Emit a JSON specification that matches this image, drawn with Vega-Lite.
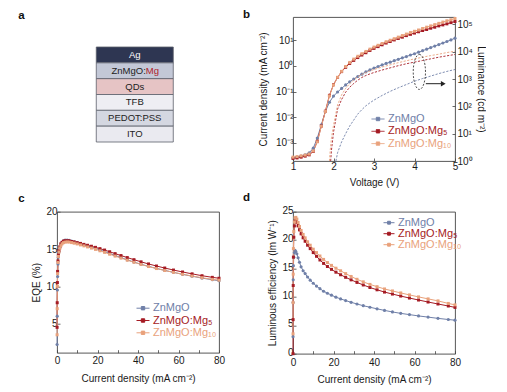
{
  "$schema": "https://vega.github.io/schema/vega-lite/v6.json",
  "background": "white",
  "padding": {"left": 17, "top": 8, "right": 0, "bottom": 0},
  "columns": 2,
  "bounds": "flush",
  "spacing": {"row": 50.7, "column": 74},
  "resolve": {
    "scale": {"color": "independent", "x": "independent", "y": "independent"},
    "axis": {"x": "independent", "y": "independent"},
    "legend": {"color": "independent"}
  },
  "config": {
    "font": "Liberation Sans",
    "view": {"stroke": "#444", "strokeWidth": 0.9},
    "axis": {
      "domain": false, "grid": false, "labelFontSize": 10, "titleFontSize": 10,
      "titleFontWeight": "normal", "labelColor": "#1a1a1a", "titleColor": "#1a1a1a",
      "tickColor": "#444", "tickSize": -3, "tickWidth": 0.8, "labelPadding": 3,
      "titlePadding": 4, "labelFlush": false, "labelOverlap": false
    },
    "axisX": {"labelPadding": 6, "titlePadding": 8},
    "legend": {
      "title": null, "orient": "none", "labelFontSize": 11, "labelOffset": 3,
      "symbolType": "M-1,0L1,0M-0.26,-0.26L0.26,-0.26L0.26,0.26L-0.26,0.26Z",
      "symbolSize": 169, "symbolStrokeWidth": 1, "rowPadding": 0.3, "padding": 0
    },
    "title": {"fontSize": 11.5, "fontWeight": "bold", "anchor": "start", "frame": "group", "color": "#111"}
  },
  "datasets": {
    "stack": [
      {"layer": "Ag", "col": "device", "label": "Ag", "hl": ""},
      {"layer": "ZnMgO:Mg", "col": "device", "label": "ZnMgO:", "hl": "Mg"},
      {"layer": "QDs", "col": "device", "label": "QDs", "hl": ""},
      {"layer": "TFB", "col": "device", "label": "TFB", "hl": ""},
      {"layer": "PEDOT:PSS", "col": "device", "label": "PEDOT:PSS", "hl": ""},
      {"layer": "ITO", "col": "device", "label": "ITO", "hl": ""}
    ],
    "jv": [
      {"s":"ZnMgO","V":1,"J":0.000251},{"s":"ZnMgO","V":1.1,"J":0.000269},{"s":"ZnMgO","V":1.2,"J":0.000295},{"s":"ZnMgO","V":1.3,"J":0.000331},{"s":"ZnMgO","V":1.4,"J":0.000398},{"s":"ZnMgO","V":1.5,"J":0.000603},{"s":"ZnMgO","V":1.6,"J":0.00151},{"s":"ZnMgO","V":1.7,"J":0.00501},{"s":"ZnMgO","V":1.8,"J":0.0166},{"s":"ZnMgO","V":1.9,"J":0.038},{"s":"ZnMgO","V":2,"J":0.0661},{"s":"ZnMgO","V":2.1,"J":0.0955},{"s":"ZnMgO","V":2.2,"J":0.132},{"s":"ZnMgO","V":2.3,"J":0.182},{"s":"ZnMgO","V":2.4,"J":0.24},{"s":"ZnMgO","V":2.5,"J":0.309},{"s":"ZnMgO","V":2.6,"J":0.389},{"s":"ZnMgO","V":2.7,"J":0.479},{"s":"ZnMgO","V":2.8,"J":0.589},{"s":"ZnMgO","V":2.9,"J":0.708},{"s":"ZnMgO","V":3,"J":0.832},{"s":"ZnMgO","V":3.1,"J":0.955},{"s":"ZnMgO","V":3.2,"J":1.1},{"s":"ZnMgO","V":3.3,"J":1.26},{"s":"ZnMgO","V":3.4,"J":1.41},{"s":"ZnMgO","V":3.5,"J":1.62},{"s":"ZnMgO","V":3.6,"J":1.82},{"s":"ZnMgO","V":3.7,"J":2.09},{"s":"ZnMgO","V":3.8,"J":2.34},{"s":"ZnMgO","V":3.9,"J":2.69},{"s":"ZnMgO","V":4,"J":3.02},{"s":"ZnMgO","V":4.1,"J":3.47},{"s":"ZnMgO","V":4.2,"J":3.98},{"s":"ZnMgO","V":4.3,"J":4.57},{"s":"ZnMgO","V":4.4,"J":5.25},{"s":"ZnMgO","V":4.5,"J":6.03},{"s":"ZnMgO","V":4.6,"J":6.92},{"s":"ZnMgO","V":4.7,"J":7.94},{"s":"ZnMgO","V":4.8,"J":9.12},{"s":"ZnMgO","V":4.9,"J":10.5},{"s":"ZnMgO","V":5,"J":12.3},
      {"s":"ZnMgO:Mg₅","V":1,"J":0.00024},{"s":"ZnMgO:Mg₅","V":1.1,"J":0.000251},{"s":"ZnMgO:Mg₅","V":1.2,"J":0.000269},{"s":"ZnMgO:Mg₅","V":1.3,"J":0.000295},{"s":"ZnMgO:Mg₅","V":1.4,"J":0.000331},{"s":"ZnMgO:Mg₅","V":1.5,"J":0.000447},{"s":"ZnMgO:Mg₅","V":1.6,"J":0.00112},{"s":"ZnMgO:Mg₅","V":1.7,"J":0.00447},{"s":"ZnMgO:Mg₅","V":1.8,"J":0.017},{"s":"ZnMgO:Mg₅","V":1.9,"J":0.0708},{"s":"ZnMgO:Mg₅","V":2,"J":0.186},{"s":"ZnMgO:Mg₅","V":2.1,"J":0.355},{"s":"ZnMgO:Mg₅","V":2.2,"J":0.603},{"s":"ZnMgO:Mg₅","V":2.3,"J":0.891},{"s":"ZnMgO:Mg₅","V":2.4,"J":1.26},{"s":"ZnMgO:Mg₅","V":2.5,"J":1.66},{"s":"ZnMgO:Mg₅","V":2.6,"J":2.14},{"s":"ZnMgO:Mg₅","V":2.7,"J":2.69},{"s":"ZnMgO:Mg₅","V":2.8,"J":3.31},{"s":"ZnMgO:Mg₅","V":2.9,"J":4.07},{"s":"ZnMgO:Mg₅","V":3,"J":4.9},{"s":"ZnMgO:Mg₅","V":3.1,"J":5.75},{"s":"ZnMgO:Mg₅","V":3.2,"J":6.76},{"s":"ZnMgO:Mg₅","V":3.3,"J":7.94},{"s":"ZnMgO:Mg₅","V":3.4,"J":9.12},{"s":"ZnMgO:Mg₅","V":3.5,"J":10.5},{"s":"ZnMgO:Mg₅","V":3.6,"J":12},{"s":"ZnMgO:Mg₅","V":3.7,"J":13.5},{"s":"ZnMgO:Mg₅","V":3.8,"J":15.5},{"s":"ZnMgO:Mg₅","V":3.9,"J":17.4},{"s":"ZnMgO:Mg₅","V":4,"J":19.5},{"s":"ZnMgO:Mg₅","V":4.1,"J":21.9},{"s":"ZnMgO:Mg₅","V":4.2,"J":24.5},{"s":"ZnMgO:Mg₅","V":4.3,"J":26.9},{"s":"ZnMgO:Mg₅","V":4.4,"J":30.2},{"s":"ZnMgO:Mg₅","V":4.5,"J":33.1},{"s":"ZnMgO:Mg₅","V":4.6,"J":37.2},{"s":"ZnMgO:Mg₅","V":4.7,"J":40.7},{"s":"ZnMgO:Mg₅","V":4.8,"J":44.7},{"s":"ZnMgO:Mg₅","V":4.9,"J":50.1},{"s":"ZnMgO:Mg₅","V":5,"J":55},
      {"s":"ZnMgO:Mg₁₀","V":1,"J":0.000269},{"s":"ZnMgO:Mg₁₀","V":1.1,"J":0.000282},{"s":"ZnMgO:Mg₁₀","V":1.2,"J":0.000302},{"s":"ZnMgO:Mg₁₀","V":1.3,"J":0.000324},{"s":"ZnMgO:Mg₁₀","V":1.4,"J":0.000355},{"s":"ZnMgO:Mg₁₀","V":1.5,"J":0.000468},{"s":"ZnMgO:Mg₁₀","V":1.6,"J":0.00107},{"s":"ZnMgO:Mg₁₀","V":1.7,"J":0.00437},{"s":"ZnMgO:Mg₁₀","V":1.8,"J":0.0166},{"s":"ZnMgO:Mg₁₀","V":1.9,"J":0.0676},{"s":"ZnMgO:Mg₁₀","V":2,"J":0.182},{"s":"ZnMgO:Mg₁₀","V":2.1,"J":0.36},{"s":"ZnMgO:Mg₁₀","V":2.2,"J":0.617},{"s":"ZnMgO:Mg₁₀","V":2.3,"J":0.955},{"s":"ZnMgO:Mg₁₀","V":2.4,"J":1.38},{"s":"ZnMgO:Mg₁₀","V":2.5,"J":1.86},{"s":"ZnMgO:Mg₁₀","V":2.6,"J":2.4},{"s":"ZnMgO:Mg₁₀","V":2.7,"J":3.02},{"s":"ZnMgO:Mg₁₀","V":2.8,"J":3.72},{"s":"ZnMgO:Mg₁₀","V":2.9,"J":4.57},{"s":"ZnMgO:Mg₁₀","V":3,"J":5.5},{"s":"ZnMgO:Mg₁₀","V":3.1,"J":6.46},{"s":"ZnMgO:Mg₁₀","V":3.2,"J":7.59},{"s":"ZnMgO:Mg₁₀","V":3.3,"J":8.91},{"s":"ZnMgO:Mg₁₀","V":3.4,"J":10.2},{"s":"ZnMgO:Mg₁₀","V":3.5,"J":11.7},{"s":"ZnMgO:Mg₁₀","V":3.6,"J":13.5},{"s":"ZnMgO:Mg₁₀","V":3.7,"J":15.5},{"s":"ZnMgO:Mg₁₀","V":3.8,"J":17.8},{"s":"ZnMgO:Mg₁₀","V":3.9,"J":20.4},{"s":"ZnMgO:Mg₁₀","V":4,"J":22.9},{"s":"ZnMgO:Mg₁₀","V":4.1,"J":25.7},{"s":"ZnMgO:Mg₁₀","V":4.2,"J":29.5},{"s":"ZnMgO:Mg₁₀","V":4.3,"J":33.1},{"s":"ZnMgO:Mg₁₀","V":4.4,"J":37.2},{"s":"ZnMgO:Mg₁₀","V":4.5,"J":41.7},{"s":"ZnMgO:Mg₁₀","V":4.6,"J":46.8},{"s":"ZnMgO:Mg₁₀","V":4.7,"J":52.5},{"s":"ZnMgO:Mg₁₀","V":4.8,"J":58.9},{"s":"ZnMgO:Mg₁₀","V":4.9,"J":64.6},{"s":"ZnMgO:Mg₁₀","V":5,"J":72.4}
    ],
    "lv": [
      {"s":"ZnMgO","V":2.06,"L":1},{"s":"ZnMgO","V":2.1,"L":2},{"s":"ZnMgO","V":2.2,"L":5.01},{"s":"ZnMgO","V":2.3,"L":10},{"s":"ZnMgO","V":2.4,"L":19.1},{"s":"ZnMgO","V":2.5,"L":31.6},{"s":"ZnMgO","V":2.6,"L":52.5},{"s":"ZnMgO","V":2.7,"L":75.9},{"s":"ZnMgO","V":2.8,"L":105},{"s":"ZnMgO","V":2.9,"L":135},{"s":"ZnMgO","V":3,"L":170},{"s":"ZnMgO","V":3.2,"L":251},{"s":"ZnMgO","V":3.4,"L":355},{"s":"ZnMgO","V":3.6,"L":479},{"s":"ZnMgO","V":3.8,"L":631},{"s":"ZnMgO","V":4,"L":832},{"s":"ZnMgO","V":4.2,"L":1047},{"s":"ZnMgO","V":4.4,"L":1288},{"s":"ZnMgO","V":4.6,"L":1585},{"s":"ZnMgO","V":4.8,"L":1905},{"s":"ZnMgO","V":5,"L":2239},
      {"s":"ZnMgO:Mg₅","V":1.93,"L":1},{"s":"ZnMgO:Mg₅","V":1.95,"L":2.51},{"s":"ZnMgO:Mg₅","V":2,"L":11.2},{"s":"ZnMgO:Mg₅","V":2.1,"L":79.4},{"s":"ZnMgO:Mg₅","V":2.2,"L":178},{"s":"ZnMgO:Mg₅","V":2.3,"L":331},{"s":"ZnMgO:Mg₅","V":2.4,"L":501},{"s":"ZnMgO:Mg₅","V":2.5,"L":692},{"s":"ZnMgO:Mg₅","V":2.6,"L":912},{"s":"ZnMgO:Mg₅","V":2.7,"L":1148},{"s":"ZnMgO:Mg₅","V":2.8,"L":1349},{"s":"ZnMgO:Mg₅","V":2.9,"L":1549},{"s":"ZnMgO:Mg₅","V":3,"L":1738},{"s":"ZnMgO:Mg₅","V":3.2,"L":2138},{"s":"ZnMgO:Mg₅","V":3.4,"L":2570},{"s":"ZnMgO:Mg₅","V":3.6,"L":3090},{"s":"ZnMgO:Mg₅","V":3.8,"L":3631},{"s":"ZnMgO:Mg₅","V":4,"L":4169},{"s":"ZnMgO:Mg₅","V":4.2,"L":4786},{"s":"ZnMgO:Mg₅","V":4.4,"L":5495},{"s":"ZnMgO:Mg₅","V":4.6,"L":6310},{"s":"ZnMgO:Mg₅","V":4.8,"L":7079},{"s":"ZnMgO:Mg₅","V":5,"L":7943},
      {"s":"ZnMgO:Mg₁₀","V":1.9,"L":1},{"s":"ZnMgO:Mg₁₀","V":1.92,"L":2.51},{"s":"ZnMgO:Mg₁₀","V":1.95,"L":7.08},{"s":"ZnMgO:Mg₁₀","V":2,"L":20},{"s":"ZnMgO:Mg₁₀","V":2.1,"L":112},{"s":"ZnMgO:Mg₁₀","V":2.2,"L":263},{"s":"ZnMgO:Mg₁₀","V":2.3,"L":457},{"s":"ZnMgO:Mg₁₀","V":2.4,"L":676},{"s":"ZnMgO:Mg₁₀","V":2.5,"L":933},{"s":"ZnMgO:Mg₁₀","V":2.6,"L":1202},{"s":"ZnMgO:Mg₁₀","V":2.7,"L":1479},{"s":"ZnMgO:Mg₁₀","V":2.8,"L":1738},{"s":"ZnMgO:Mg₁₀","V":2.9,"L":1995},{"s":"ZnMgO:Mg₁₀","V":3,"L":2239},{"s":"ZnMgO:Mg₁₀","V":3.2,"L":2754},{"s":"ZnMgO:Mg₁₀","V":3.4,"L":3311},{"s":"ZnMgO:Mg₁₀","V":3.6,"L":3981},{"s":"ZnMgO:Mg₁₀","V":3.8,"L":4677},{"s":"ZnMgO:Mg₁₀","V":4,"L":5495},{"s":"ZnMgO:Mg₁₀","V":4.2,"L":6310},{"s":"ZnMgO:Mg₁₀","V":4.4,"L":7244},{"s":"ZnMgO:Mg₁₀","V":4.6,"L":8128},{"s":"ZnMgO:Mg₁₀","V":4.8,"L":9333},{"s":"ZnMgO:Mg₁₀","V":5,"L":10471}
    ],
    "eqe": [
      {"s":"ZnMgO","J":0.05,"E":2.2},{"s":"ZnMgO","J":0.1,"E":6},{"s":"ZnMgO","J":0.2,"E":9.5},{"s":"ZnMgO","J":0.3,"E":11.3},{"s":"ZnMgO","J":0.5,"E":13},{"s":"ZnMgO","J":0.7,"E":13.9},{"s":"ZnMgO","J":1,"E":14.6},{"s":"ZnMgO","J":1.4,"E":15.2},{"s":"ZnMgO","J":1.9,"E":15.6},{"s":"ZnMgO","J":2.5,"E":15.9},{"s":"ZnMgO","J":3.2,"E":16.1},{"s":"ZnMgO","J":4,"E":16.2},{"s":"ZnMgO","J":5,"E":16.2},{"s":"ZnMgO","J":6,"E":16.15},{"s":"ZnMgO","J":7.2,"E":16.05},{"s":"ZnMgO","J":8.5,"E":15.95},{"s":"ZnMgO","J":10,"E":15.85},{"s":"ZnMgO","J":11.6,"E":15.7},{"s":"ZnMgO","J":13.3,"E":15.55},{"s":"ZnMgO","J":15.1,"E":15.4},{"s":"ZnMgO","J":17,"E":15.25},{"s":"ZnMgO","J":19,"E":15.08},{"s":"ZnMgO","J":21.2,"E":14.88},{"s":"ZnMgO","J":23.5,"E":14.65},{"s":"ZnMgO","J":26,"E":14.4},{"s":"ZnMgO","J":28.7,"E":14.13},{"s":"ZnMgO","J":31.6,"E":13.85},{"s":"ZnMgO","J":34.7,"E":13.55},{"s":"ZnMgO","J":38,"E":13.25},{"s":"ZnMgO","J":41.5,"E":12.95},{"s":"ZnMgO","J":45.2,"E":12.67},{"s":"ZnMgO","J":49.1,"E":12.4},{"s":"ZnMgO","J":53.2,"E":12.13},{"s":"ZnMgO","J":57.5,"E":11.87},{"s":"ZnMgO","J":62,"E":11.6},{"s":"ZnMgO","J":66.7,"E":11.35},{"s":"ZnMgO","J":71.6,"E":11.1},{"s":"ZnMgO","J":76.7,"E":10.88},{"s":"ZnMgO","J":80,"E":10.75},
      {"s":"ZnMgO:Mg₅","J":0.05,"E":4.5},{"s":"ZnMgO:Mg₅","J":0.1,"E":7.8},{"s":"ZnMgO:Mg₅","J":0.2,"E":10.5},{"s":"ZnMgO:Mg₅","J":0.3,"E":12},{"s":"ZnMgO:Mg₅","J":0.5,"E":13.4},{"s":"ZnMgO:Mg₅","J":0.7,"E":14.2},{"s":"ZnMgO:Mg₅","J":1,"E":14.8},{"s":"ZnMgO:Mg₅","J":1.4,"E":15.3},{"s":"ZnMgO:Mg₅","J":1.9,"E":15.7},{"s":"ZnMgO:Mg₅","J":2.5,"E":15.9},{"s":"ZnMgO:Mg₅","J":3.2,"E":16.05},{"s":"ZnMgO:Mg₅","J":4,"E":16.1},{"s":"ZnMgO:Mg₅","J":5,"E":16.1},{"s":"ZnMgO:Mg₅","J":6,"E":16.1},{"s":"ZnMgO:Mg₅","J":7.2,"E":16},{"s":"ZnMgO:Mg₅","J":8.5,"E":15.95},{"s":"ZnMgO:Mg₅","J":10,"E":15.85},{"s":"ZnMgO:Mg₅","J":11.6,"E":15.75},{"s":"ZnMgO:Mg₅","J":13.3,"E":15.62},{"s":"ZnMgO:Mg₅","J":15.1,"E":15.5},{"s":"ZnMgO:Mg₅","J":17,"E":15.37},{"s":"ZnMgO:Mg₅","J":19,"E":15.22},{"s":"ZnMgO:Mg₅","J":21.2,"E":15.05},{"s":"ZnMgO:Mg₅","J":23.5,"E":14.86},{"s":"ZnMgO:Mg₅","J":26,"E":14.63},{"s":"ZnMgO:Mg₅","J":28.7,"E":14.38},{"s":"ZnMgO:Mg₅","J":31.6,"E":14.12},{"s":"ZnMgO:Mg₅","J":34.7,"E":13.85},{"s":"ZnMgO:Mg₅","J":38,"E":13.57},{"s":"ZnMgO:Mg₅","J":41.5,"E":13.28},{"s":"ZnMgO:Mg₅","J":45.2,"E":13},{"s":"ZnMgO:Mg₅","J":49.1,"E":12.72},{"s":"ZnMgO:Mg₅","J":53.2,"E":12.45},{"s":"ZnMgO:Mg₅","J":57.5,"E":12.18},{"s":"ZnMgO:Mg₅","J":62,"E":11.92},{"s":"ZnMgO:Mg₅","J":66.7,"E":11.67},{"s":"ZnMgO:Mg₅","J":71.6,"E":11.42},{"s":"ZnMgO:Mg₅","J":76.7,"E":11.2},{"s":"ZnMgO:Mg₅","J":80,"E":11.08},
      {"s":"ZnMgO:Mg₁₀","J":0.05,"E":3.5},{"s":"ZnMgO:Mg₁₀","J":0.1,"E":7},{"s":"ZnMgO:Mg₁₀","J":0.2,"E":10},{"s":"ZnMgO:Mg₁₀","J":0.3,"E":11.7},{"s":"ZnMgO:Mg₁₀","J":0.5,"E":13.2},{"s":"ZnMgO:Mg₁₀","J":0.7,"E":14},{"s":"ZnMgO:Mg₁₀","J":1,"E":14.6},{"s":"ZnMgO:Mg₁₀","J":1.4,"E":15.1},{"s":"ZnMgO:Mg₁₀","J":1.9,"E":15.45},{"s":"ZnMgO:Mg₁₀","J":2.5,"E":15.7},{"s":"ZnMgO:Mg₁₀","J":3.2,"E":15.85},{"s":"ZnMgO:Mg₁₀","J":4,"E":15.92},{"s":"ZnMgO:Mg₁₀","J":5,"E":15.95},{"s":"ZnMgO:Mg₁₀","J":6,"E":15.93},{"s":"ZnMgO:Mg₁₀","J":7.2,"E":15.86},{"s":"ZnMgO:Mg₁₀","J":8.5,"E":15.78},{"s":"ZnMgO:Mg₁₀","J":10,"E":15.68},{"s":"ZnMgO:Mg₁₀","J":11.6,"E":15.55},{"s":"ZnMgO:Mg₁₀","J":13.3,"E":15.42},{"s":"ZnMgO:Mg₁₀","J":15.1,"E":15.28},{"s":"ZnMgO:Mg₁₀","J":17,"E":15.12},{"s":"ZnMgO:Mg₁₀","J":19,"E":14.95},{"s":"ZnMgO:Mg₁₀","J":21.2,"E":14.76},{"s":"ZnMgO:Mg₁₀","J":23.5,"E":14.55},{"s":"ZnMgO:Mg₁₀","J":26,"E":14.3},{"s":"ZnMgO:Mg₁₀","J":28.7,"E":14.05},{"s":"ZnMgO:Mg₁₀","J":31.6,"E":13.78},{"s":"ZnMgO:Mg₁₀","J":34.7,"E":13.5},{"s":"ZnMgO:Mg₁₀","J":38,"E":13.22},{"s":"ZnMgO:Mg₁₀","J":41.5,"E":12.93},{"s":"ZnMgO:Mg₁₀","J":45.2,"E":12.65},{"s":"ZnMgO:Mg₁₀","J":49.1,"E":12.38},{"s":"ZnMgO:Mg₁₀","J":53.2,"E":12.12},{"s":"ZnMgO:Mg₁₀","J":57.5,"E":11.87},{"s":"ZnMgO:Mg₁₀","J":62,"E":11.62},{"s":"ZnMgO:Mg₁₀","J":66.7,"E":11.38},{"s":"ZnMgO:Mg₁₀","J":71.6,"E":11.15},{"s":"ZnMgO:Mg₁₀","J":76.7,"E":10.93},{"s":"ZnMgO:Mg₁₀","J":80,"E":10.82}
    ],
    "le": [
      {"s":"ZnMgO","J":0.02,"E":3},{"s":"ZnMgO","J":0.05,"E":9},{"s":"ZnMgO","J":0.1,"E":13},{"s":"ZnMgO","J":0.2,"E":15.5},{"s":"ZnMgO","J":0.4,"E":17},{"s":"ZnMgO","J":0.7,"E":17.8},{"s":"ZnMgO","J":1,"E":18.2},{"s":"ZnMgO","J":1.4,"E":18},{"s":"ZnMgO","J":1.9,"E":17.6},{"s":"ZnMgO","J":2.5,"E":16.9},{"s":"ZnMgO","J":3.2,"E":16.1},{"s":"ZnMgO","J":4,"E":15.3},{"s":"ZnMgO","J":5,"E":14.6},{"s":"ZnMgO","J":6,"E":14.1},{"s":"ZnMgO","J":7.2,"E":13.5},{"s":"ZnMgO","J":8.5,"E":12.95},{"s":"ZnMgO","J":10,"E":12.4},{"s":"ZnMgO","J":11.6,"E":11.9},{"s":"ZnMgO","J":13.3,"E":11.45},{"s":"ZnMgO","J":15.1,"E":11},{"s":"ZnMgO","J":17,"E":10.65},{"s":"ZnMgO","J":19,"E":10.3},{"s":"ZnMgO","J":21.2,"E":9.95},{"s":"ZnMgO","J":23.5,"E":9.65},{"s":"ZnMgO","J":26,"E":9.35},{"s":"ZnMgO","J":28.7,"E":9.05},{"s":"ZnMgO","J":31.6,"E":8.75},{"s":"ZnMgO","J":34.7,"E":8.45},{"s":"ZnMgO","J":38,"E":8.18},{"s":"ZnMgO","J":41.5,"E":7.9},{"s":"ZnMgO","J":45.2,"E":7.62},{"s":"ZnMgO","J":49.1,"E":7.35},{"s":"ZnMgO","J":53.2,"E":7.1},{"s":"ZnMgO","J":57.5,"E":6.88},{"s":"ZnMgO","J":62,"E":6.65},{"s":"ZnMgO","J":66.7,"E":6.44},{"s":"ZnMgO","J":71.6,"E":6.22},{"s":"ZnMgO","J":76.7,"E":6.02},{"s":"ZnMgO","J":80,"E":5.9},
      {"s":"ZnMgO:Mg₅","J":0.02,"E":0},{"s":"ZnMgO:Mg₅","J":0.05,"E":6},{"s":"ZnMgO:Mg₅","J":0.1,"E":12},{"s":"ZnMgO:Mg₅","J":0.2,"E":17},{"s":"ZnMgO:Mg₅","J":0.4,"E":20.5},{"s":"ZnMgO:Mg₅","J":0.7,"E":22.5},{"s":"ZnMgO:Mg₅","J":1,"E":23.3},{"s":"ZnMgO:Mg₅","J":1.4,"E":23.5},{"s":"ZnMgO:Mg₅","J":1.9,"E":23.1},{"s":"ZnMgO:Mg₅","J":2.5,"E":22.5},{"s":"ZnMgO:Mg₅","J":3.2,"E":21.8},{"s":"ZnMgO:Mg₅","J":4,"E":21.1},{"s":"ZnMgO:Mg₅","J":5,"E":20.4},{"s":"ZnMgO:Mg₅","J":6,"E":19.8},{"s":"ZnMgO:Mg₅","J":7.2,"E":19.1},{"s":"ZnMgO:Mg₅","J":8.5,"E":18.5},{"s":"ZnMgO:Mg₅","J":10,"E":17.8},{"s":"ZnMgO:Mg₅","J":11.6,"E":17.15},{"s":"ZnMgO:Mg₅","J":13.3,"E":16.5},{"s":"ZnMgO:Mg₅","J":15.1,"E":15.9},{"s":"ZnMgO:Mg₅","J":17,"E":15.35},{"s":"ZnMgO:Mg₅","J":19,"E":14.85},{"s":"ZnMgO:Mg₅","J":21.2,"E":14.35},{"s":"ZnMgO:Mg₅","J":23.5,"E":13.9},{"s":"ZnMgO:Mg₅","J":26,"E":13.45},{"s":"ZnMgO:Mg₅","J":28.7,"E":13},{"s":"ZnMgO:Mg₅","J":31.6,"E":12.55},{"s":"ZnMgO:Mg₅","J":34.7,"E":12.1},{"s":"ZnMgO:Mg₅","J":38,"E":11.65},{"s":"ZnMgO:Mg₅","J":41.5,"E":11.25},{"s":"ZnMgO:Mg₅","J":45.2,"E":10.85},{"s":"ZnMgO:Mg₅","J":49.1,"E":10.5},{"s":"ZnMgO:Mg₅","J":53.2,"E":10.15},{"s":"ZnMgO:Mg₅","J":57.5,"E":9.8},{"s":"ZnMgO:Mg₅","J":62,"E":9.45},{"s":"ZnMgO:Mg₅","J":66.7,"E":9.1},{"s":"ZnMgO:Mg₅","J":71.6,"E":8.75},{"s":"ZnMgO:Mg₅","J":76.7,"E":8.4},{"s":"ZnMgO:Mg₅","J":80,"E":8.15},
      {"s":"ZnMgO:Mg₁₀","J":0.02,"E":3.5},{"s":"ZnMgO:Mg₁₀","J":0.05,"E":9},{"s":"ZnMgO:Mg₁₀","J":0.1,"E":14},{"s":"ZnMgO:Mg₁₀","J":0.2,"E":18.5},{"s":"ZnMgO:Mg₁₀","J":0.4,"E":21.5},{"s":"ZnMgO:Mg₁₀","J":0.7,"E":23.2},{"s":"ZnMgO:Mg₁₀","J":1,"E":23.9},{"s":"ZnMgO:Mg₁₀","J":1.4,"E":24},{"s":"ZnMgO:Mg₁₀","J":1.9,"E":23.7},{"s":"ZnMgO:Mg₁₀","J":2.5,"E":23.1},{"s":"ZnMgO:Mg₁₀","J":3.2,"E":22.4},{"s":"ZnMgO:Mg₁₀","J":4,"E":21.7},{"s":"ZnMgO:Mg₁₀","J":5,"E":21},{"s":"ZnMgO:Mg₁₀","J":6,"E":20.4},{"s":"ZnMgO:Mg₁₀","J":7.2,"E":19.7},{"s":"ZnMgO:Mg₁₀","J":8.5,"E":19.1},{"s":"ZnMgO:Mg₁₀","J":10,"E":18.4},{"s":"ZnMgO:Mg₁₀","J":11.6,"E":17.8},{"s":"ZnMgO:Mg₁₀","J":13.3,"E":17.2},{"s":"ZnMgO:Mg₁₀","J":15.1,"E":16.6},{"s":"ZnMgO:Mg₁₀","J":17,"E":16.05},{"s":"ZnMgO:Mg₁₀","J":19,"E":15.55},{"s":"ZnMgO:Mg₁₀","J":21.2,"E":15.05},{"s":"ZnMgO:Mg₁₀","J":23.5,"E":14.6},{"s":"ZnMgO:Mg₁₀","J":26,"E":14.1},{"s":"ZnMgO:Mg₁₀","J":28.7,"E":13.6},{"s":"ZnMgO:Mg₁₀","J":31.6,"E":13.1},{"s":"ZnMgO:Mg₁₀","J":34.7,"E":12.65},{"s":"ZnMgO:Mg₁₀","J":38,"E":12.2},{"s":"ZnMgO:Mg₁₀","J":41.5,"E":11.8},{"s":"ZnMgO:Mg₁₀","J":45.2,"E":11.4},{"s":"ZnMgO:Mg₁₀","J":49.1,"E":11.05},{"s":"ZnMgO:Mg₁₀","J":53.2,"E":10.7},{"s":"ZnMgO:Mg₁₀","J":57.5,"E":10.35},{"s":"ZnMgO:Mg₁₀","J":62,"E":10},{"s":"ZnMgO:Mg₁₀","J":66.7,"E":9.65},{"s":"ZnMgO:Mg₁₀","J":71.6,"E":9.3},{"s":"ZnMgO:Mg₁₀","J":76.7,"E":8.85},{"s":"ZnMgO:Mg₁₀","J":80,"E":8.6}
    ]
  },
  "concat": [
    {
      "width": 162, "height": 125,
      "view": {"stroke": null},
      "title": {"text": "a", "dx": -38.7, "offset": -4},
      "data": {"name": "stack"},
      "encoding": {
        "x": {"field": "col", "type": "nominal", "axis": null, "scale": {"paddingInner": 0, "paddingOuter": 0.552, "align": 0.462}},
        "y": {"field": "layer", "type": "nominal", "axis": null, "sort": null, "scale": {"domain": ["Ag", "ZnMgO:Mg", "QDs", "TFB", "PEDOT:PSS", "ITO"], "paddingInner": 0, "paddingOuter": 0.948, "align": 1}}
      },
      "layer": [
        {
          "mark": {"type": "rect", "stroke": "#5c5f6b", "strokeWidth": 0.8},
          "encoding": {
            "color": {"field": "layer", "type": "nominal", "legend": null, "scale": {"domain": ["Ag", "ZnMgO:Mg", "QDs", "TFB", "PEDOT:PSS", "ITO"], "range": ["#2e3652", "#c3c8d7", "#e6c4c5", "#eeeef3", "#d4d7e1", "#eaeaf0"]}}
          }
        },
        {
          "transform": [{"filter": "datum.hl === ''"}],
          "mark": {"type": "text", "fontSize": 9.5, "align": "center", "baseline": "middle"},
          "encoding": {
            "text": {"field": "label"},
            "color": {"condition": {"test": "datum.layer === 'Ag'", "value": "#ffffff"}, "value": "#222222"}
          }
        },
        {
          "transform": [{"filter": "datum.hl !== ''"}],
          "mark": {"type": "text", "fontSize": 9.5, "align": "right", "baseline": "middle", "dx": 11, "color": "#222222"},
          "encoding": {"text": {"field": "label"}}
        },
        {
          "transform": [{"filter": "datum.hl !== ''"}],
          "mark": {"type": "text", "fontSize": 9.5, "align": "left", "baseline": "middle", "dx": 11, "color": "#b0202a"},
          "encoding": {"text": {"field": "hl"}}
        }
      ]
    },
    {
      "width": 162, "height": 144,
      "title": {"text": "b", "dx": -50, "offset": -4},
      "encoding": {
        "x": {"field": "V", "type": "quantitative", "scale": {"domain": [1, 5], "nice": false}, "axis": {"title": "Voltage (V)", "values": [1, 2, 3, 4, 5], "labelPadding": 3, "titlePadding": 6}}
      },
      "layer": [
        {
          "data": {"name": "jv"},
          "encoding": {
            "y": {"field": "J", "type": "quantitative", "scale": {"type": "log", "domain": [0.00019, 83], "nice": false}, "axis": {"title": "Current density (mA cm⁻²)", "titlePadding": 7, "values": [0.001, 0.01, 0.1, 1, 10], "labelExpr": "datum.value > 5 ? '10¹' : datum.value > 0.5 ? '10⁰' : datum.value > 0.05 ? '10⁻¹' : datum.value > 0.005 ? '10⁻²' : '10⁻³'"}},
            "color": {"field": "s", "type": "nominal", "scale": {"domain": ["ZnMgO", "ZnMgO:Mg₅", "ZnMgO:Mg₁₀"], "range": ["#7080a8", "#a51b24", "#e9a27c"]},
              "legend": {"legendX": 78, "legendY": 95, "encode": {
                "labels": {"update": {"fill": {"signal": "datum.value === 'ZnMgO' ? '#7080a8' : datum.value === 'ZnMgO:Mg₅' ? '#a51b24' : '#e9a27c'"}}},
                "symbols": {"update": {"fill": {"signal": "datum.value === 'ZnMgO' ? '#7080a8' : datum.value === 'ZnMgO:Mg₅' ? '#a51b24' : '#e9a27c'"}, "stroke": {"signal": "datum.value === 'ZnMgO' ? '#7080a8' : datum.value === 'ZnMgO:Mg₅' ? '#a51b24' : '#e9a27c'"}, "strokeDash": {"value": [1, 0]}, "opacity": {"value": 1}}}
              }}}
          },
          "layer": [
            {"mark": {"type": "line", "strokeWidth": 1}},
            {"transform": [{"filter": "datum.s === 'ZnMgO'"}], "mark": {"type": "point", "shape": "circle", "filled": true, "size": 10, "opacity": 1}},
            {"transform": [{"filter": "datum.s !== 'ZnMgO'"}], "mark": {"type": "point", "shape": "square", "filled": true, "size": 9, "opacity": 1}}
          ]
        },
        {
          "layer": [
            {
              "data": {"name": "lv"},
              "mark": {"type": "line", "strokeWidth": 0.9, "strokeDash": [2.2, 1.5]},
              "encoding": {
                "y": {"field": "L", "type": "quantitative", "scale": {"type": "log", "domain": [1, 187000], "nice": false}, "axis": {"orient": "right", "title": "Luminance (cd m⁻²)", "labelPadding": 5, "titlePadding": 3, "values": [1, 10, 100, 1000, 10000, 100000], "labelExpr": "datum.value > 50000 ? '10⁵' : datum.value > 5000 ? '10⁴' : datum.value > 500 ? '10³' : datum.value > 50 ? '10²' : datum.value > 5 ? '10¹' : '10⁰'"}},
                "color": {"field": "s", "type": "nominal"}
              }
            },
            {
              "data": {"values": [{"V": 4.12, "L": 1820}]},
              "mark": {"type": "point", "shape": "M0,-1A0.35,1 0 1 1 0,1A0.35,1 0 1 1 0,-1Z", "size": 1225, "filled": false, "color": "#222222", "strokeWidth": 0.8, "strokeDash": [2, 1.5], "opacity": 1},
              "encoding": {"y": {"field": "L", "type": "quantitative"}}
            },
            {
              "data": {"values": [{"V": 4.28, "V2": 4.68, "L": 676}]},
              "mark": {"type": "rule", "color": "#222222", "strokeWidth": 1},
              "encoding": {"x2": {"field": "V2"}, "y": {"field": "L", "type": "quantitative"}}
            },
            {
              "data": {"values": [{"V": 4.71, "L": 676}]},
              "mark": {"type": "point", "shape": "triangle-right", "size": 30, "filled": true, "color": "#222222", "opacity": 1},
              "encoding": {"y": {"field": "L", "type": "quantitative"}}
            }
          ]
        }
      ],
      "resolve": {"scale": {"y": "independent"}}
    },
    {
      "width": 162, "height": 141,
      "title": {"text": "c", "dx": -38.7, "offset": 2},
      "data": {"name": "eqe"},
      "encoding": {
        "x": {"field": "J", "type": "quantitative", "scale": {"domain": [0, 80], "nice": false}, "axis": {"title": "Current density (mA cm⁻²)", "values": [0, 10, 20, 30, 40, 50, 60, 70, 80], "labelExpr": "datum.value % 20 === 0 ? datum.label : ''"}},
        "y": {"field": "E", "type": "quantitative", "scale": {"domain": [1.1, 20], "nice": false, "zero": false}, "axis": {"title": "EQE (%)", "values": [5, 10, 15, 20]}},
        "color": {"field": "s", "type": "nominal", "scale": {"domain": ["ZnMgO", "ZnMgO:Mg₅", "ZnMgO:Mg₁₀"], "range": ["#7080a8", "#a51b24", "#e9a27c"]},
          "legend": {"legendX": 79, "legendY": 89.5, "encode": {
            "labels": {"update": {"fill": {"signal": "datum.value === 'ZnMgO' ? '#7080a8' : datum.value === 'ZnMgO:Mg₅' ? '#a51b24' : '#e9a27c'"}}},
            "symbols": {"update": {"fill": {"signal": "datum.value === 'ZnMgO' ? '#7080a8' : datum.value === 'ZnMgO:Mg₅' ? '#a51b24' : '#e9a27c'"}, "stroke": {"signal": "datum.value === 'ZnMgO' ? '#7080a8' : datum.value === 'ZnMgO:Mg₅' ? '#a51b24' : '#e9a27c'"}, "opacity": {"value": 1}}}
          }}}
      },
      "layer": [
        {"mark": {"type": "line", "strokeWidth": 1}},
        {"transform": [{"filter": "datum.s === 'ZnMgO'"}], "mark": {"type": "point", "shape": "circle", "filled": true, "size": 10, "opacity": 1}},
        {"transform": [{"filter": "datum.s !== 'ZnMgO'"}], "mark": {"type": "point", "shape": "square", "filled": true, "size": 9, "opacity": 1}}
      ]
    },
    {
      "width": 162, "height": 142,
      "title": {"text": "d", "dx": -50, "offset": 2},
      "data": {"name": "le"},
      "encoding": {
        "x": {"field": "J", "type": "quantitative", "scale": {"domain": [0, 80], "nice": false}, "axis": {"title": "Current density (mA cm⁻²)", "labelPadding": 7, "titlePadding": 7, "values": [0, 10, 20, 30, 40, 50, 60, 70, 80], "labelExpr": "datum.value % 20 === 0 ? datum.label : ''"}},
        "y": {"field": "E", "type": "quantitative", "scale": {"domain": [0, 25], "nice": false}, "axis": {"title": "Luminous efficiency (lm W⁻¹)", "labelOffset": -1.5, "values": [0, 5, 10, 15, 20, 25]}},
        "color": {"field": "s", "type": "nominal", "scale": {"domain": ["ZnMgO", "ZnMgO:Mg₅", "ZnMgO:Mg₁₀"], "range": ["#7080a8", "#a51b24", "#e9a27c"]},
          "legend": {"legendX": 90, "legendY": 5, "symbolSize": 121, "rowPadding": 0, "encode": {
            "labels": {"update": {"fill": {"signal": "datum.value === 'ZnMgO' ? '#7080a8' : datum.value === 'ZnMgO:Mg₅' ? '#a51b24' : '#e9a27c'"}}},
            "symbols": {"update": {"fill": {"signal": "datum.value === 'ZnMgO' ? '#7080a8' : datum.value === 'ZnMgO:Mg₅' ? '#a51b24' : '#e9a27c'"}, "stroke": {"signal": "datum.value === 'ZnMgO' ? '#7080a8' : datum.value === 'ZnMgO:Mg₅' ? '#a51b24' : '#e9a27c'"}, "opacity": {"value": 1}}}
          }}}
      },
      "layer": [
        {"mark": {"type": "line", "strokeWidth": 1}},
        {"transform": [{"filter": "datum.s === 'ZnMgO'"}], "mark": {"type": "point", "shape": "circle", "filled": true, "size": 10, "opacity": 1}},
        {"transform": [{"filter": "datum.s !== 'ZnMgO'"}], "mark": {"type": "point", "shape": "square", "filled": true, "size": 9, "opacity": 1}}
      ]
    }
  ]
}
